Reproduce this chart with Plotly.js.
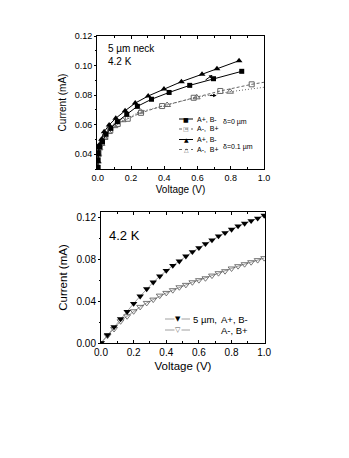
<!DOCTYPE html>
<html>
<head>
<meta charset="utf-8">
<script src="https://cdn.plot.ly/plotly-3.0.1.min.js"></script>
<style>
  html, body { margin: 0; padding: 0; background: #fff; }
  #chart { width: 349px; height: 458px; }
</style>
</head>
<body>
<div id="chart"></div>
<script>
// ---- top panel: 5 um neck, 4.2 K ----
// delta = 0 um, A+, B-  (filled squares)
const sqV = [0, 0, 0.003, 0.01, 0.028, 0.049, 0.078, 0.118, 0.174, 0.238, 0.323, 0.429, 0.553, 0.696, 0.866];
const sqI = [0.031, 0.036, 0.041, 0.045, 0.0485, 0.0535, 0.0575, 0.062, 0.067, 0.0724, 0.0772, 0.0818, 0.0866, 0.0911, 0.0961];
// delta = 0 um, A-, B+  (open squares)
const osV = [0, 0, 0.004, 0.012, 0.025, 0.045, 0.075, 0.12, 0.18, 0.26, 0.387, 0.577, 0.737, 0.926];
const osI = [0.031, 0.036, 0.041, 0.045, 0.048, 0.052, 0.056, 0.0605, 0.064, 0.068, 0.0726, 0.0782, 0.0828, 0.0873];
const osTailV = [0.926, 1.0];
const osTailI = [0.0873, 0.0887];
// delta = 0.1 um, A+, B-  (filled triangles)
const trV = [0, 0, 0.002, 0.008, 0.022, 0.038, 0.068, 0.108, 0.164, 0.225, 0.303, 0.398, 0.503, 0.627, 0.717, 0.850];
const trI = [0.030, 0.035, 0.0395, 0.0462, 0.0501, 0.0552, 0.0598, 0.0643, 0.0694, 0.0746, 0.0794, 0.0841, 0.0891, 0.0941, 0.0979, 0.1033];
// delta = 0.1 um, A-, B+  (open triangles)
const otV = [0, 0, 0.003, 0.01, 0.022, 0.04, 0.065, 0.1, 0.15, 0.257, 0.417, 0.595, 0.796];
const otI = [0.030, 0.035, 0.040, 0.044, 0.047, 0.051, 0.055, 0.059, 0.063, 0.0688, 0.0733, 0.0785, 0.0823];
const otTailV = [0.796, 1.0];
const otTailI = [0.0823, 0.0853];

// ---- bottom panel: 5 um, 4.2 K ----
const botV = [0, 0.04, 0.08, 0.12, 0.16, 0.20, 0.24, 0.28, 0.32, 0.36, 0.40, 0.44, 0.48,
              0.52, 0.56, 0.60, 0.64, 0.68, 0.72, 0.76, 0.80, 0.84, 0.88, 0.92, 0.96, 1.00];
const botFilledI = [0, 0.0077, 0.0154, 0.023, 0.030, 0.0378, 0.0448, 0.0518, 0.0582, 0.064, 0.0694, 0.0742, 0.0784,
                    0.0832, 0.0874, 0.0912, 0.095, 0.0986, 0.1024, 0.1056, 0.1088, 0.112, 0.1146, 0.117, 0.1194, 0.1222];
const botOpenI = [0, 0.007, 0.0134, 0.0208, 0.0256, 0.0304, 0.0346, 0.0384, 0.0416, 0.0454, 0.048, 0.0506, 0.0534,
                  0.0557, 0.0582, 0.0602, 0.062, 0.0646, 0.0669, 0.0688, 0.0714, 0.0736, 0.0755, 0.0774, 0.0794, 0.0813];

// labels
const topLegendNames = ['A+, B-', 'A-,\u00A0 B+', 'A+, B-', 'A-,\u00A0 B+'];
const topLegendSyms = ['\u25A0', '\u25A1', '\u25B2', '\u25B3'];
const deltaLabels = ['\u03B4=0 \u00B5m', '\u03B4=0.1 \u00B5m'];
const botLegendNames = ['A+, B-', 'A-, B+'];
const botLegendSyms = ['\u25BC', '\u25BD'];

// pixel -> paper helpers (page is 349 x 458)
const W = 349, H = 458;
const px = (x) => x / W;
const py = (y) => 1 - y / H;

const FONT = 'Liberation Sans, Arial, sans-serif';
const GREY = '#666';

// traces
var sqFilled = {
  x: sqV, y: sqI, xaxis: 'x', yaxis: 'y', mode: 'lines+markers', type: 'scatter',
  line: {color: 'black', width: 1},
  marker: {symbol: 'square', size: 5, color: 'black'}
};
var sqOpen = {
  x: osV, y: osI, xaxis: 'x', yaxis: 'y', mode: 'lines+markers', type: 'scatter',
  line: {color: GREY, width: 1, dash: '3px,2px'},
  marker: {symbol: 'square-open', size: 5, color: GREY}
};
var sqOpenTail = {
  x: osTailV, y: osTailI, xaxis: 'x', yaxis: 'y', mode: 'lines', type: 'scatter',
  line: {color: GREY, width: 1, dash: '3px,2px'}
};
var trFilled = {
  x: trV, y: trI, xaxis: 'x', yaxis: 'y', mode: 'lines+markers', type: 'scatter',
  line: {color: 'black', width: 1},
  marker: {symbol: 'triangle-up', size: 6, color: 'black'}
};
var trOpen = {
  x: otV, y: otI, xaxis: 'x', yaxis: 'y', mode: 'lines+markers', type: 'scatter',
  line: {color: GREY, width: 1, dash: '1px,2px'},
  marker: {symbol: 'triangle-up-open', size: 6, color: GREY}
};
var trOpenTail = {
  x: otTailV, y: otTailI, xaxis: 'x', yaxis: 'y', mode: 'lines', type: 'scatter',
  line: {color: GREY, width: 1, dash: '1px,2px'}
};
var botFilled = {
  x: botV, y: botFilledI, xaxis: 'x2', yaxis: 'y2', mode: 'lines+markers', type: 'scatter',
  line: {color: '#888', width: 0.8},
  marker: {symbol: 'triangle-down', size: 6.5, color: 'black'}
};
var botOpen = {
  x: botV, y: botOpenI, xaxis: 'x2', yaxis: 'y2', mode: 'lines+markers', type: 'scatter',
  line: {color: '#888', width: 0.8},
  marker: {symbol: 'triangle-down-open', size: 6, color: '#555', line: {width: 0.8}}
};

// axes
function xAxis(domain, range, anchor, fs, titleFs, standoff) {
  return {
    domain: domain, range: range, anchor: anchor, autorange: false,
    tickvals: [0, 0.2, 0.4, 0.6, 0.8, 1.0], tickformat: '.1f',
    ticks: 'inside', ticklen: 3, tickcolor: 'black', mirror: 'ticks',
    minor: {dtick: 0.1, tick0: 0, ticks: 'inside', ticklen: 2, tickcolor: 'black'},
    showline: true, linecolor: 'black', linewidth: 1, showgrid: false, zeroline: false,
    tickfont: {family: FONT, size: fs, color: 'black'},
    title: {text: 'Voltage (V)', font: {family: FONT, size: titleFs, color: 'black'}, standoff: standoff}
  };
}
function yAxis(domain, range, anchor, vals, minorDt, fs, titleFs, standoff) {
  return {
    domain: domain, range: range, anchor: anchor, autorange: false,
    tickvals: vals, tickformat: '.2f',
    ticks: 'outside', ticklen: 2, tickcolor: 'black', mirror: true,
    minor: {dtick: minorDt, tick0: 0, ticks: 'outside', ticklen: 1.5, tickcolor: 'black'},
    showline: true, linecolor: 'black', linewidth: 1, showgrid: false, zeroline: false,
    tickfont: {family: FONT, size: fs, color: 'black'},
    title: {text: 'Current (mA)', font: {family: FONT, size: titleFs, color: 'black'}, standoff: standoff}
  };
}

// hand-made legends (rows are tighter than the built-in legend allows)
var shapes = [];
var annotations = [];
var topRows = [119, 129, 139.5, 149.5];
var topDash = ['solid', 'dot', 'solid', 'dot'];
for (let i = 0; i < topRows.length; i++) {
  const filled = i % 2 === 0;
  shapes.push({type: 'line', xref: 'paper', yref: 'paper',
    x0: px(179), x1: px(193), y0: py(topRows[i]), y1: py(topRows[i]),
    line: {color: filled ? 'black' : GREY, width: 1, dash: topDash[i]}});
  annotations.push({xref: 'paper', yref: 'paper', x: px(186), y: py(topRows[i]), showarrow: false,
    text: topLegendSyms[i], font: {family: 'DejaVu Sans', size: 6, color: filled ? 'black' : GREY},
    xanchor: 'center', yanchor: 'middle', borderpad: 0});
  annotations.push({xref: 'paper', yref: 'paper', x: px(195), y: py(topRows[i]), showarrow: false,
    text: topLegendNames[i], font: {family: FONT, size: 7, color: 'black'},
    xanchor: 'left', yanchor: 'middle'});
}
annotations.push({xref: 'paper', yref: 'paper', x: px(221), y: py(122), showarrow: false,
  text: deltaLabels[0], font: {family: FONT, size: 7, color: 'black'}, xanchor: 'left', yanchor: 'middle'});
annotations.push({xref: 'paper', yref: 'paper', x: px(221), y: py(147), showarrow: false,
  text: deltaLabels[1], font: {family: FONT, size: 7, color: 'black'}, xanchor: 'left', yanchor: 'middle'});

var botRows = [319, 330];
for (let i = 0; i < botRows.length; i++) {
  shapes.push({type: 'line', xref: 'paper', yref: 'paper',
    x0: px(165), x1: px(190), y0: py(botRows[i]), y1: py(botRows[i]),
    line: {color: '#888', width: 0.8}});
  annotations.push({xref: 'paper', yref: 'paper', x: px(177.5), y: py(botRows[i]), showarrow: false,
    text: botLegendSyms[i], font: {family: 'DejaVu Sans', size: 7, color: i === 0 ? 'black' : '#555'},
    xanchor: 'center', yanchor: 'middle', bgcolor: 'white', borderpad: 0});
  annotations.push({xref: 'paper', yref: 'paper', x: px(219), y: py(botRows[i]), showarrow: false,
    text: botLegendNames[i], font: {family: FONT, size: 9.5, color: 'black'},
    xanchor: 'left', yanchor: 'middle'});
}
annotations.push({xref: 'paper', yref: 'paper', x: px(191), y: py(319), showarrow: false,
  text: '5 \u00B5m,', font: {family: FONT, size: 9.5, color: 'black'}, xanchor: 'left', yanchor: 'middle'});

// panel labels
annotations.push({xref: 'paper', yref: 'paper', x: px(106), y: py(48), showarrow: false,
  text: '5 \u00B5m neck', font: {family: FONT, size: 10, color: 'black'}, xanchor: 'left', yanchor: 'middle'});
annotations.push({xref: 'paper', yref: 'paper', x: px(106), y: py(62), showarrow: false,
  text: '4.2 K', font: {family: FONT, size: 10, color: 'black'}, xanchor: 'left', yanchor: 'middle'});
annotations.push({xref: 'paper', yref: 'paper', x: px(107), y: py(235), showarrow: false,
  text: '4.2 K', font: {family: FONT, size: 13, color: 'black'}, xanchor: 'left', yanchor: 'middle'});

// small arrows in the top panel
annotations.push({xref: 'x', yref: 'y', axref: 'x', ayref: 'y', x: 0.69, y: 0.0936, ax: 0.63, ay: 0.0888,
  text: ' ', showarrow: true, arrowhead: 2, arrowsize: 0.7, arrowwidth: 1, arrowcolor: 'black', standoff: 0});
annotations.push({xref: 'x', yref: 'y', axref: 'x', ayref: 'y', x: 0.715, y: 0.0797, ax: 0.655, ay: 0.0797,
  text: ' ', showarrow: true, arrowhead: 2, arrowsize: 0.7, arrowwidth: 1, arrowcolor: 'black', standoff: 0});

var layout = {
  width: W, height: H,
  margin: {l: 0, r: 0, t: 0, b: 0},
  paper_bgcolor: 'white', plot_bgcolor: 'white',
  showlegend: false,
  xaxis: xAxis([px(97), px(264)], [-0.005, 1.0], 'y', 9, 10, 4),
  yaxis: yAxis([py(169), py(36)], [0.03, 0.12], 'x', [0.04, 0.06, 0.08, 0.10, 0.12], 0.01, 9, 10, 6),
  xaxis2: xAxis([px(101), px(265)], [0, 1.005], 'y2', 10, 11.5, 4),
  yaxis2: yAxis([py(343), py(212)], [0, 0.1255], 'x2', [0, 0.04, 0.08, 0.12], 0.02, 10, 11.5, 6),
  shapes: shapes,
  annotations: annotations
};

var data = [sqOpenTail, trOpenTail, sqOpen, trOpen, sqFilled, trFilled, botOpen, botFilled];
Plotly.newPlot('chart', data, layout, {staticPlot: true});
</script>
</body>
</html>
